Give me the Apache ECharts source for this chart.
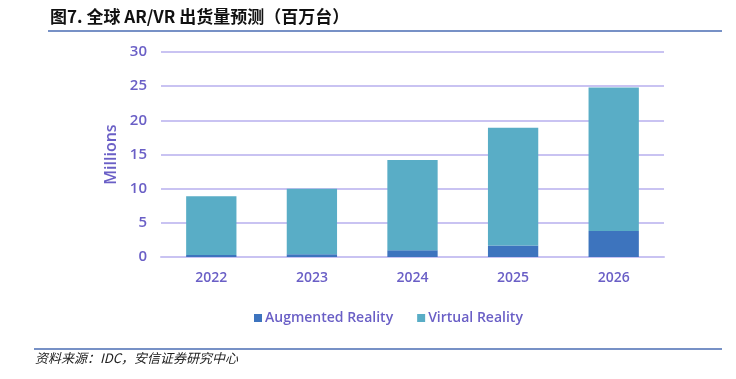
<!DOCTYPE html>
<html>
<head>
<meta charset="utf-8">
<script src="https://cdn.jsdelivr.net/npm/echarts@6/dist/echarts.min.js"></script>
<style>
  html, body { margin: 0; padding: 0; background: #fff; }
  #chart { width: 736px; height: 379px; }
</style>
</head>
<body>
<div id="chart"></div>
<script>
const years = ["2022", "2023", "2024", "2025", "2026"];
const arValues = [0.3, 0.4, 1.0, 1.7, 3.8];
const vrValues = [8.6, 9.6, 13.2, 17.2, 21.0];

const titleText = "图7. 全球 AR/VR 出货量预测（百万台）";
const sourceText = "资料来源：IDC，安信证券研究中心";

const labelColor = "#6a5fc6";
const fontFamily = "'Open Sans', 'Noto Sans', sans-serif";

const chart = echarts.init(document.getElementById("chart"));

chart.setOption({
    backgroundColor: "#fff",
    animation: false,

    grid: { left: 161, right: 72, top: 52, bottom: 122 },

    legend: {
        left: 249,
        top: 306,
        itemWidth: 8,
        itemHeight: 8,
        itemGap: 24,
        icon: "rect",
        textStyle: { color: labelColor, fontSize: 14, fontWeight: 600, fontFamily, padding: [0, 0, 0, -2] },
        data: ["Augmented Reality", "Virtual Reality"]
    },

    xAxis: {
        type: "category",
        data: years,
        axisLine: { lineStyle: { color: "#c9c3f2", width: 2 } },
        axisTick: { show: false },
        axisLabel: { color: labelColor, fontSize: 14, fontWeight: 600, fontFamily, margin: 14 }
    },

    yAxis: {
        type: "value",
        min: 0,
        max: 30,
        interval: 5,
        name: "Millions",
        nameLocation: "middle",
        nameGap: 40,
        nameTextStyle: { color: labelColor, fontSize: 16, fontWeight: 600, fontFamily },
        axisLine: { show: false },
        axisTick: { show: false },
        axisLabel: { color: labelColor, fontSize: 15, fontWeight: 600, fontFamily, margin: 14 },
        splitLine: { lineStyle: { color: "#c9c3f2", width: 2 } }
    },

    series: [
        {
            name: "Augmented Reality",
            type: "bar",
            stack: "total",
            barWidth: "50%",
            itemStyle: { color: "#3d74be" },
            data: arValues
        },
        {
            name: "Virtual Reality",
            type: "bar",
            stack: "total",
            barWidth: "50%",
            itemStyle: { color: "#59adc6" },
            data: vrValues
        }
    ],

    graphic: [
        {
            type: "text",
            left: 50,
            top: 8,
            style: { text: titleText, fill: "#111", font: "bold 17px 'Noto Sans CJK SC', sans-serif" }
        },
        {
            type: "line",
            shape: { x1: 48, y1: 31, x2: 722, y2: 31 },
            style: { stroke: "#4a6db3", lineWidth: 1.5 }
        },
        {
            type: "line",
            shape: { x1: 34, y1: 349, x2: 722, y2: 349 },
            style: { stroke: "#4a6db3", lineWidth: 1.5 }
        },
        {
            type: "text",
            left: 35,
            top: 352,
            style: { text: sourceText, fill: "#222", font: "italic 13px 'Noto Sans CJK SC', sans-serif" }
        }
    ]
});
</script>
</body>
</html>
